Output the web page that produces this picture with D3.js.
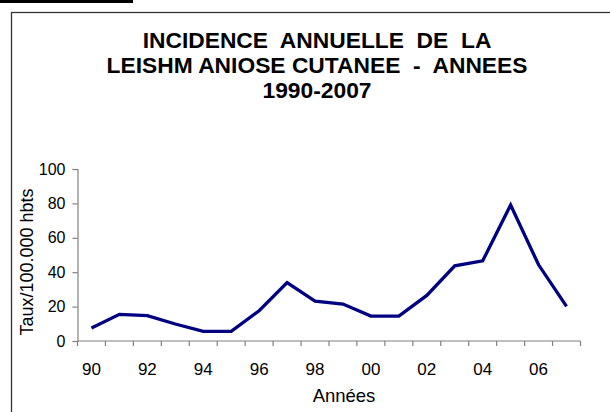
<!DOCTYPE html>
<html>
<head>
<meta charset="utf-8">
<script src="https://cdn.jsdelivr.net/npm/d3@7"></script>
<style>
  body { margin: 0; background: #fff; }
  text { font-family: "Liberation Sans", Arial, sans-serif; }
</style>
</head>
<body>
<div id="chart"></div>
<script>

// Data
var years = ['90','91','92','93','94','95','96','97','98','99','00','01','02','03','04','05','06','07'];
var incidence = [7.5, 15.5, 14.7, 9.9, 5.6, 5.6, 17.6, 34.0, 23.2, 21.5, 14.5, 14.5, 26.5, 43.7, 46.6, 79.1, 44.3, 20.1];
var yTicks = [0, 20, 40, 60, 80, 100];
var xLabels = ['90','92','94','96','98','00','02','04','06'];
var titleLines = ['INCIDENCE  ANNUELLE  DE  LA', 'LEISHM ANIOSE CUTANEE  -  ANNEES', '1990-2007'];

var createChart = () => {

  var width = 610,
      height = 412;

  var svg = d3.select('#chart')
    .append('svg')
    .attr('width', width)
    .attr('height', height);

  // clipped header bar from the page above
  svg.append('rect')
    .attr('x', 0).attr('y', 0)
    .attr('width', 133).attr('height', 3)
    .attr('fill', '#000');

  // outer frame (runs off the right and bottom)
  svg.append('rect')
    .attr('x', 11.5).attr('y', 12.5)
    .attr('width', 640).attr('height', 440)
    .attr('fill', 'none')
    .attr('stroke', '#333')
    .attr('stroke-width', 1.3);

  // title
  svg.append('g')
    .selectAll('text')
    .data(titleLines)
    .enter()
    .append('text')
      .attr('x', 317)
      .attr('y', function(d, i) { return 47.5 + i * 25.3; })
      .attr('text-anchor', 'middle')
      .attr('font-weight', 'bold')
      .attr('font-size', '22.8px')
      .style('white-space', 'pre')
      .text(function(d) { return d; });

  var plot = {left: 77.5, right: 580.5, top: 169, bottom: 341};

  var x = d3.scaleBand().domain(years).range([plot.left, plot.right]),
      y = d3.scaleLinear().domain([0, 100]).range([plot.bottom, plot.top]);

  // y axis
  var yAxis = svg.append('g')
      .attr('transform', 'translate(' + plot.left + ',0)')
      .call(d3.axisLeft(y).tickValues(yTicks).tickSize(5).tickPadding(7));

  // x axis: ticks at band edges, labels every other year
  var edges = years.map(function(d) { return x(d); }).concat([plot.right]);
  var xAxis = svg.append('g')
      .attr('transform', 'translate(0,' + plot.bottom + ')');
  xAxis.append('line')
      .attr('x1', plot.left).attr('x2', plot.right);
  xAxis.selectAll('.tick')
    .data(edges)
    .enter()
    .append('line')
      .attr('class', 'tick')
      .attr('x1', function(d) { return d; })
      .attr('x2', function(d) { return d; })
      .attr('y1', 0).attr('y2', 5);
  xAxis.selectAll('text')
    .data(xLabels)
    .enter()
    .append('text')
      .attr('x', function(d) { return x(d) + x.bandwidth() / 2; })
      .attr('y', 34)
      .attr('text-anchor', 'middle')
      .text(function(d) { return d; });

  svg.selectAll('.domain, .tick line, g line')
      .attr('stroke', '#808080')
      .attr('stroke-width', 1.2);
  yAxis.attr('font-family', null);
  yAxis.selectAll('text').attr('font-size', '16px').attr('fill', '#000');
  xAxis.selectAll('text').attr('font-size', '17px').attr('fill', '#000');

  // axis titles
  svg.append('text')
      .attr('transform', 'translate(33,262) rotate(-90)')
      .attr('text-anchor', 'middle')
      .attr('font-size', '18px')
      .text('Taux/100.000 hbts');

  svg.append('text')
      .attr('x', 344)
      .attr('y', 402)
      .attr('text-anchor', 'middle')
      .attr('font-size', '18.5px')
      .text('Années');

  // the series
  var line = d3.line()
    .x(function(d, i) { return x(years[i]) + x.bandwidth() / 2; })
    .y(function(d) { return y(d); });

  svg.append('path')
      .datum(incidence)
      .attr('d', line)
      .attr('fill', 'none')
      .attr('stroke', '#000080')
      .attr('stroke-width', 3.3)
      .attr('stroke-linejoin', 'miter');
};

createChart();
</script>
</body>
</html>
